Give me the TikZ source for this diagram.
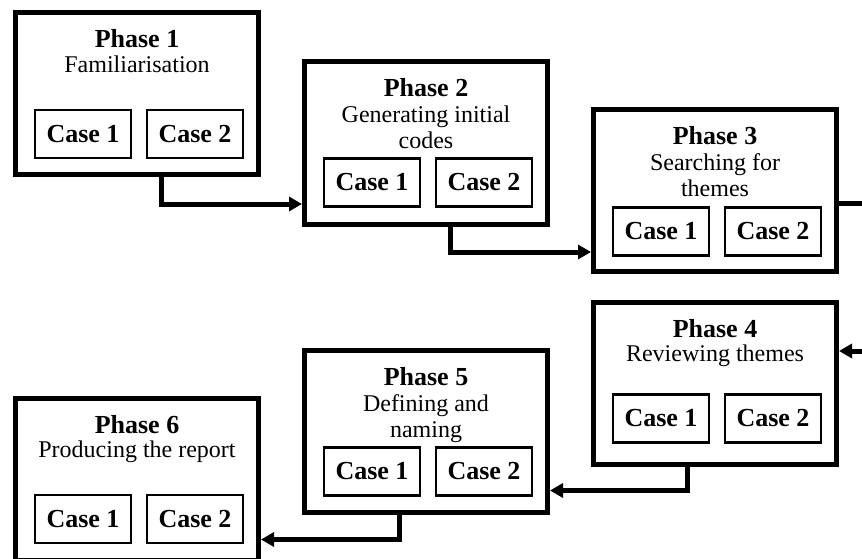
\documentclass[tikz,border=0pt]{standalone}
\usepackage{fontspec}
\setmainfont{Liberation Serif}
\usetikzlibrary{arrows.meta}

% two case boxes inside a phase box: #1 phase name, #2 downward offset of the row
\newcommand{\phasecases}[2]{%
  \node[casebox] (#1c1) at ([shift={(-54,#2)}]#1.center) {Case 1};
  \node[casebox] (#1c2) at ([shift={(58,#2)}]#1.center) {Case 2};}

\begin{document}
\begin{tikzpicture}[x=1pt,y=-1pt,
  phase/.style={draw, line width=5pt, minimum width=243pt, minimum height=162pt, inner sep=0pt},
  casebox/.style={draw, line width=2.2pt, minimum width=96pt, minimum height=48pt,
    inner sep=0pt, font=\fontsize{26}{30}\selectfont\bfseries},
  title/.style={anchor=base, inner sep=0pt, font=\fontsize{26}{30}\selectfont\bfseries},
  sub/.style={anchor=base, inner sep=0pt, font=\fontsize{24}{28}\selectfont},
  conn/.style={line width=5pt, -{Triangle[length=13pt,width=14pt]}}]

\useasboundingbox (0,0) rectangle (862,559);
\fill[white] (0,0) rectangle (862,559);
\clip (0,0) rectangle (862,559);

% phase frames
\node[phase] (p1) at (137,93.5) {};
\node[phase] (p2) at (426,143) {};
\node[phase] (p3) at (715,190.5) {};
\node[phase] (p4) at (715,383.5) {};
\node[phase] (p5) at (426,431.5) {};
\node[phase] (p6) at (137,479.5) {};

% headings
\node[title] (p1t) at (137,47.5) {Phase 1};
\node[sub] (p1s) at (137,73) {Familiarisation};

\node[title] (p2t) at (426,96.5) {Phase 2};
\node[sub] (p2s) at (426,122.5) {Generating initial};
\node[sub] (p2u) at (426,148.5) {codes};

\node[title] (p3t) at (715,144.5) {Phase 3};
\node[sub] (p3s) at (715,170.5) {Searching for};
\node[sub] (p3u) at (715,196.5) {themes};

\node[title] (p4t) at (715,337.5) {Phase 4};
\node[sub] (p4s) at (715,361) {Reviewing themes};

\node[title] (p5t) at (426,385.5) {Phase 5};
\node[sub] (p5s) at (426,411.5) {Defining and};
\node[sub] (p5u) at (426,437.5) {naming};

\node[title] (p6t) at (137,433) {Phase 6};
\node[sub] (p6s) at (137,457.5) {Producing the report};

% case boxes
\phasecases{p1}{40.5}
\phasecases{p2}{39.5}
\phasecases{p3}{41}
\phasecases{p4}{35}
\phasecases{p5}{40}
\phasecases{p6}{39.5}

% connectors
\coordinate (k12) at (161,204);
\draw[conn] (p1.south -| k12) |- (p2.west |- k12);
\coordinate (k23) at (450,252);
\draw[conn] (p2.south -| k23) |- (p3.west |- k23);
\coordinate (k34a) at (880,203);
\coordinate (k34b) at (880,351);
\draw[conn] (p3.east |- k34a) -- (k34a) -- (k34b) -- (p4.east |- k34b);
\coordinate (k45) at (687.5,490.5);
\draw[conn] (p4.south -| k45) |- (p5.east |- k45);
\coordinate (k56) at (399.5,539.5);
\draw[conn] (p5.south -| k56) |- (p6.east |- k56);
\end{tikzpicture}
\end{document}
